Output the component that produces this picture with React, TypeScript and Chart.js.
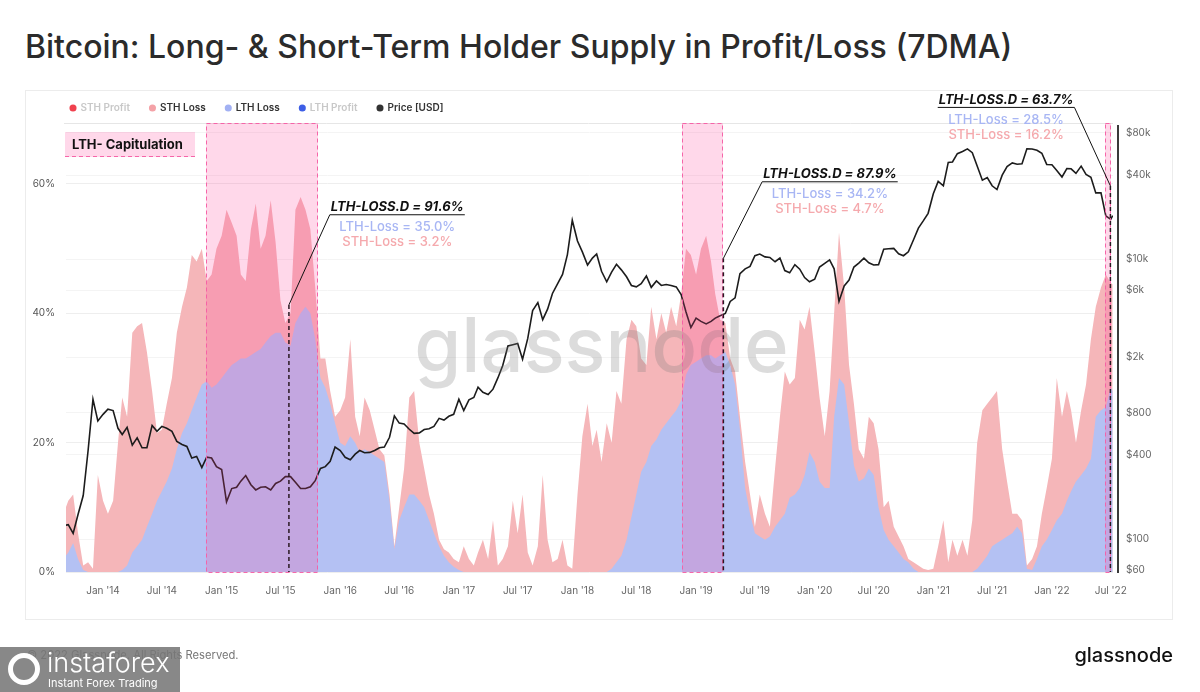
import React, { useEffect, useRef } from "react";
import { Chart, registerables } from "chart.js";

Chart.register(...registerables);

const FONT = "Inter, 'Noto Sans', 'DejaVu Sans', sans-serif";

// ---- data (semi-monthly samples, 7DMA) ----
const dates = [
  "2013-09-01","2013-09-16","2013-10-01","2013-10-16","2013-11-01","2013-11-16","2013-12-01","2013-12-16",
  "2014-01-01","2014-01-16","2014-02-01","2014-02-16","2014-03-01","2014-03-16","2014-04-01","2014-04-16","2014-05-01","2014-05-16","2014-06-01","2014-06-16","2014-07-01","2014-07-16","2014-08-01","2014-08-16","2014-09-01","2014-09-16","2014-10-01","2014-10-16","2014-11-01","2014-11-16","2014-12-01","2014-12-16",
  "2015-01-01","2015-01-16","2015-02-01","2015-02-16","2015-03-01","2015-03-16","2015-04-01","2015-04-16","2015-05-01","2015-05-16","2015-06-01","2015-06-16","2015-07-01","2015-07-16","2015-08-01","2015-08-16","2015-09-01","2015-09-16","2015-10-01","2015-10-16","2015-11-01","2015-11-16","2015-12-01","2015-12-16",
  "2016-01-01","2016-01-16","2016-02-01","2016-02-16","2016-03-01","2016-03-16","2016-04-01","2016-04-16","2016-05-01","2016-05-16","2016-06-01","2016-06-16","2016-07-01","2016-07-16","2016-08-01","2016-08-16","2016-09-01","2016-09-16","2016-10-01","2016-10-16","2016-11-01","2016-11-16","2016-12-01","2016-12-16",
  "2017-01-01","2017-01-16","2017-02-01","2017-02-16","2017-03-01","2017-03-16","2017-04-01","2017-04-16","2017-05-01","2017-05-16","2017-06-01","2017-06-16","2017-07-01","2017-07-16","2017-08-01","2017-08-16","2017-09-01","2017-09-16","2017-10-01","2017-10-16","2017-11-01","2017-11-16","2017-12-01","2017-12-16",
  "2018-01-01","2018-01-16","2018-02-01","2018-02-16","2018-03-01","2018-03-16","2018-04-01","2018-04-16","2018-05-01","2018-05-16","2018-06-01","2018-06-16","2018-07-01","2018-07-16","2018-08-01","2018-08-16","2018-09-01","2018-09-16","2018-10-01","2018-10-16","2018-11-01","2018-11-16","2018-12-01","2018-12-16",
  "2019-01-01","2019-01-16","2019-02-01","2019-02-16","2019-03-01","2019-03-16","2019-04-01","2019-04-16","2019-05-01","2019-05-16","2019-06-01","2019-06-16","2019-07-01","2019-07-16","2019-08-01","2019-08-16","2019-09-01","2019-09-16","2019-10-01","2019-10-16","2019-11-01","2019-11-16","2019-12-01","2019-12-16",
  "2020-01-01","2020-01-16","2020-02-01","2020-02-16","2020-03-01","2020-03-16","2020-04-01","2020-04-16","2020-05-01","2020-05-16","2020-06-01","2020-06-16","2020-07-01","2020-07-16","2020-08-01","2020-08-16","2020-09-01","2020-09-16","2020-10-01","2020-10-16","2020-11-01","2020-11-16","2020-12-01","2020-12-16",
  "2021-01-01","2021-01-16","2021-02-01","2021-02-16","2021-03-01","2021-03-16","2021-04-01","2021-04-16","2021-05-01","2021-05-16","2021-06-01","2021-06-16","2021-07-01","2021-07-16","2021-08-01","2021-08-16","2021-09-01","2021-09-16","2021-10-01","2021-10-16","2021-11-01","2021-11-16","2021-12-01","2021-12-16",
  "2022-01-01","2022-01-16","2022-02-01","2022-02-16","2022-03-01","2022-03-16","2022-04-01","2022-04-16","2022-05-01","2022-05-16","2022-06-01","2022-06-16","2022-07-01","2022-07-07",
];

// LTH supply in loss (% of supply)
const lthLoss = [
  2, 3, 4.5, 2, 0.3, 0, 0, 0,
  0, 0, 0, 0, 0.3, 1, 3, 4, 5, 7, 9, 11, 12.5, 14, 16, 19, 21.5, 23, 25, 27, 29, 29.5, 28.5, 29,
  30, 31, 32, 32.5, 33, 33, 33.5, 34, 34.5, 35.5, 36.5, 37, 37, 35.5, 35, 38.5, 40, 41, 40, 36, 30, 28.5, 26, 23,
  20, 19.5, 21, 20, 18.5, 19, 18.5, 18, 17.5, 17, 11, 3.5, 8, 10, 12, 12, 11, 10, 8, 6, 4, 2.5, 1.5, 0.8,
  0.3, 0, 0, 0, 0, 0, 0, 0, 0, 0, 0, 0, 0, 0, 0, 0, 0, 0, 0, 0, 0, 0, 0, 0,
  0, 0, 0, 0, 0, 0, 0, 0.5, 1.5, 2.5, 5, 8.5, 12, 15.5, 17, 19.5, 20.5, 22, 23, 24, 25, 26.5, 30.5, 32,
  32.5, 33, 33.5, 33.5, 33, 33.5, 34, 32, 29, 22, 13, 9, 6, 5.5, 5, 5.5, 7, 8, 9, 11.5, 12, 13, 15, 18.5,
  17, 14, 13, 13, 24, 30, 29, 23, 16.5, 14, 14.5, 16, 15, 10, 6.5, 5, 4, 3, 2, 1.5, 0.5, 0, 0, 0,
  0, 0, 0, 0, 0, 0, 0, 0, 0, 0.5, 1.5, 2.5, 4, 4.5, 5, 5.5, 6, 7, 6, 0.5, 0.3, 2, 4, 5,
  6.5, 8, 9, 11, 12.5, 14, 15, 16, 17.5, 24, 25, 25.5, 28.5, 28,
];

// STH supply in loss (% of supply)
const sthLoss = [
  7, 8, 7.5, 4, 0.7, 1.5, 0.5, 15,
  11, 9, 11, 20, 26.7, 23, 34, 34, 33.5, 27, 19, 10.5, 9.5, 12, 14, 18, 19.5, 21, 24, 21, 21, 15.5, 17.5, 21,
  22, 25, 22, 19.5, 13, 12, 19.5, 23, 15.5, 16.5, 21, 14, 5, 3, 5, 17.5, 18, 15, 13, 8, 3, 4.5, 2, 1,
  5, 7.5, 15, 4, 2.5, 8, 6.5, 4, 1.5, 1, 1, 0.5, 2, 6, 15, 16, 9, 6, 4, 3, 1, 1, 1.5, 1.2,
  1.2, 4, 2, 1, 3, 5, 2, 8, 1, 2, 4, 11, 6, 12, 3, 1, 4, 15, 5, 1.5, 2, 5, 1, 0.5,
  12, 21, 26, 19.5, 22, 17, 23, 19.5, 26.5, 23.5, 31, 30.5, 26, 17.5, 15, 21.5, 15.5, 18, 14, 17, 13, 16.5, 19.5, 17,
  13.5, 17, 18.5, 14.5, 10, 5.5, 4.5, 1, 2, 2, 4, 3, 1, 6.5, 4, 1.5, 9, 16, 22, 17.5, 18, 26, 22.5, 22.5,
  17, 13, 8, 15, 16, 22.5, 15, 9, 9.5, 5, 3, 8, 8, 9, 3.5, 6, 3, 2.5, 2, 0.5, 1, 1, 0.5, 0.3,
  0.5, 4, 8, 1.5, 5, 2.5, 5, 2.5, 8, 19.5, 23.5, 23.5, 23, 23.5, 14, 8.5, 3, 2, 2, 0.5, 1.7, 2, 5, 8,
  11, 22, 15, 17, 12.5, 6, 10, 13, 18.5, 17, 19, 20.5, 16.2, 16.5,
];

// BTC price (USD)
const price = [
  125, 127, 110, 150, 205, 430, 1000, 700,
  780, 850, 830, 620, 560, 630, 470, 530, 450, 450, 650, 590, 640, 620, 590, 500, 475, 460, 380, 390, 325, 385, 380, 330,
  315, 185, 230, 235, 260, 285, 245, 225, 235, 237, 225, 250, 260, 280, 280, 255, 230, 230, 237, 262, 320, 330, 360, 455,
  430, 385, 370, 405, 430, 415, 417, 430, 450, 455, 535, 760, 675, 665, 610, 570, 575, 607, 615, 640, 730, 710, 755, 780,
  1000, 830, 990, 1030, 1220, 1120, 1080, 1180, 1420, 1740, 2400, 2450, 2500, 1930, 2720, 4300, 4900, 3700, 4400, 5700, 6700, 7800, 10800, 19000,
  13500, 11300, 9100, 10200, 10900, 8200, 6900, 8100, 9200, 8400, 7500, 6500, 6350, 6700, 7600, 6300, 7000, 6500, 6600, 6500, 6350, 5600, 4200, 3250,
  3800, 3600, 3450, 3600, 3800, 3950, 4100, 5000, 5300, 7900, 8550, 8900, 10600, 10900, 10400, 10300, 9600, 10200, 8300, 8000, 9150, 8500, 7400, 6900,
  7200, 8800, 9350, 9900, 8550, 5000, 6450, 7100, 8800, 9400, 10200, 9450, 9100, 9150, 11800, 11900, 11950, 10950, 10600, 11300, 13800, 16700, 18800, 21300,
  29400, 36000, 33500, 49200, 49600, 56800, 58900, 61500, 57800, 46400, 36700, 38300, 33500, 31500, 39900, 46000, 48800, 47700, 48100, 61500, 61300, 60100, 57200, 47600,
  47300, 43100, 38700, 44500, 44300, 41100, 46300, 40400, 38500, 29800, 29800, 20400, 19300, 20500,
];

const xRange = ["2013-09-09", "2022-07-08"];
const xTickDates = [
  "2014-01-01","2014-07-01","2015-01-01","2015-07-01","2016-01-01","2016-07-01","2017-01-01","2017-07-01","2018-01-01",
  "2018-07-01","2019-01-01","2019-07-01","2020-01-01","2020-07-01","2021-01-01","2021-07-01","2022-01-01","2022-07-01",
];
const xTickLabels = [
  "Jan '14","Jul '14","Jan '15","Jul '15","Jan '16","Jul '16","Jan '17","Jul '17","Jan '18",
  "Jul '18","Jan '19","Jul '19","Jan '20","Jul '20","Jan '21","Jul '21","Jan '22","Jul '22",
];
const pctTicks = [0, 20, 40, 60];
const pctRange = [0, 69.43];
const priceTicks = [60, 100, 400, 800, 2000, 6000, 10000, 40000, 80000];
const priceRange = [58.3, 94100];

const legendNames = ["STH Profit", "STH Loss", "LTH Loss", "LTH Profit", "Price [USD]"];
const capitulationBands = [
  ["2014-11-13", "2015-10-24"],
  ["2018-11-18", "2019-03-26"],
  ["2022-06-12", "2022-07-03"],
];
const capitulationLabel = "LTH- Capitulation";
const markers = [
  { date: "2015-07-27", top: 41.3, labelDate: "2016-06-25", labelPct: 56.4, side: "left",
    title: "LTH-LOSS.D = 91.6%", lth: "LTH-Loss = 35.0%", sth: "STH-Loss = 3.2%" },
  { date: "2019-03-26", top: 48.5, labelDate: "2020-02-17", labelPct: 61.5, side: "left",
    title: "LTH-LOSS.D = 87.9%", lth: "LTH-Loss = 34.2%", sth: "STH-Loss = 4.7%" },
  { date: "2022-06-30", top: 59.7, labelDate: "2021-08-13", labelPct: 73.0, side: "right",
    title: "LTH-LOSS.D = 63.7%", lth: "LTH-Loss = 28.5%", sth: "STH-Loss = 16.2%" },
];

function toYear(s: string): number {
  const [y, m, d] = s.split("-").map(Number);
  const start = Date.UTC(y, 0, 1);
  const end = Date.UTC(y + 1, 0, 1);
  return y + (Date.UTC(y, m - 1, d) - start) / (end - start);
}

function fmtPrice(v: number): string {
  return v >= 1000 ? `$${v / 1000}k` : `$${v}`;
}

const BAND_FILL = "rgba(255,60,150,0.2)";
const BAND_EDGE = "rgba(246,95,165,0.95)";
const LEGEND_SHIFT = 50.5;

export default function App() {
  const ref = useRef<HTMLCanvasElement>(null);

  useEffect(() => {
    const canvas = ref.current;
    if (!canvas) return;
    const xs = dates.map(toYear);
    const total = lthLoss.map((v, i) => v + sthLoss[i]);

    const dotColors = ["#f0414e", "#f4a2a7", "#a2b1f3", "#3d5ee6", "#333333"];
    const textColors = ["#c8c8c8", "#333333", "#333333", "#c8c8c8", "#333333"];

    const overlay = {
      id: "overlay",
      afterLayout(chart: any) {
        if (chart.legend) chart.legend.left += LEGEND_SHIFT;
      },
      beforeDatasetsDraw(chart: any) {
        const { ctx, chartArea: ca } = chart;
        ctx.save();
        ctx.strokeStyle = "#e6e6e6";
        ctx.lineWidth = 1;
        ctx.beginPath();
        ctx.moveTo(ca.left - 2, ca.top + 0.5);
        ctx.lineTo(ca.right, ca.top + 0.5);
        ctx.stroke();
        ctx.restore();
      },
      afterDatasetsDraw(chart: any) {
        const { ctx, chartArea: ca, scales } = chart;
        const x = scales.x;
        const y = scales.y;
        ctx.save();
        // watermark
        ctx.font = `500 76px ${FONT}`;
        ctx.fillStyle = "rgba(120,120,120,0.26)";
        ctx.textAlign = "center";
        ctx.textBaseline = "alphabetic";
        ctx.fillText("glassnode", (ca.left + ca.right) / 2 + 12, (ca.top + ca.bottom) / 2 + 24);

        // capitulation bands
        for (const [a, b] of capitulationBands) {
          const x0 = Math.round(x.getPixelForValue(toYear(a)));
          const x1 = Math.round(x.getPixelForValue(toYear(b)));
          ctx.fillStyle = BAND_FILL;
          ctx.fillRect(x0, ca.top, x1 - x0, ca.bottom - ca.top);
          ctx.setLineDash([4, 3]);
          ctx.strokeStyle = BAND_EDGE;
          ctx.lineWidth = 1;
          ctx.strokeRect(x0 + 0.5, ca.top + 0.5, x1 - x0 - 1, ca.bottom - ca.top);
          ctx.setLineDash([]);
        }

        // key box
        const kx = ca.left - 1, ky = ca.top + 9, kw = 130, kh = 25;
        ctx.fillStyle = BAND_FILL;
        ctx.fillRect(kx, ky, kw, kh);
        ctx.setLineDash([4, 3]);
        ctx.strokeStyle = BAND_EDGE;
        ctx.beginPath();
        ctx.moveTo(kx, ky + kh - 0.5);
        ctx.lineTo(kx + kw, ky + kh - 0.5);
        ctx.stroke();
        ctx.setLineDash([]);
        ctx.fillStyle = "#111";
        ctx.font = `700 13px ${FONT}`;
        ctx.textAlign = "left";
        ctx.textBaseline = "middle";
        ctx.fillText(capitulationLabel, kx + 7, ky + kh / 2 + 0.5);

        // markers & labels
        for (const m of markers) {
          const mx = x.getPixelForValue(toYear(m.date));
          const my = y.getPixelForValue(m.top);
          ctx.setLineDash([4, 3]);
          ctx.strokeStyle = "#2a1822";
          ctx.lineWidth = 1.5;
          ctx.beginPath();
          ctx.moveTo(mx, my);
          ctx.lineTo(mx, ca.bottom);
          ctx.stroke();
          ctx.setLineDash([]);

          const lx = x.getPixelForValue(toYear(m.labelDate));
          const ly = y.getPixelForValue(m.labelPct);
          ctx.font = `italic 700 13px ${FONT}`;
          ctx.textAlign = "center";
          ctx.textBaseline = "middle";
          const w = ctx.measureText(m.title).width;
          ctx.fillStyle = "#111";
          ctx.fillText(m.title, lx, ly);
          const ux0 = lx - w / 2 - 1, ux1 = lx + w / 2 + 1, uy = ly + 7.5;
          ctx.strokeStyle = "#111";
          ctx.lineWidth = 1;
          ctx.beginPath();
          ctx.moveTo(ux0, uy);
          ctx.lineTo(ux1, uy);
          ctx.stroke();
          const ax = m.side === "left" ? ux0 : ux1;
          ctx.beginPath();
          ctx.moveTo(ax, uy);
          ctx.lineTo(mx, my);
          ctx.stroke();
          ctx.font = `500 13px ${FONT}`;
          ctx.fillStyle = "#a8b6f4";
          ctx.fillText(m.lth, lx, ly + 20);
          ctx.fillStyle = "#f5a9ad";
          ctx.fillText(m.sth, lx, ly + 35);
        }
        ctx.restore();
      },
      afterDraw(chart: any) {
        const { ctx, chartArea: ca } = chart;
        ctx.save();
        ctx.strokeStyle = "#3a3a3a";
        ctx.lineWidth = 2;
        ctx.beginPath();
        ctx.moveTo(ca.right + 5, ca.top + 2);
        ctx.lineTo(ca.right + 5, ca.bottom + 1);
        ctx.stroke();
        ctx.restore();
      },
    };

    const chart = new Chart(canvas, {
      type: "line",
      data: {
        datasets: [
          { label: legendNames[0], data: [], borderColor: dotColors[0], backgroundColor: dotColors[0], order: 3 },
          {
            label: legendNames[1],
            data: xs.map((xv, i) => ({ x: xv, y: total[i] })),
            borderWidth: 0, borderColor: "rgba(0,0,0,0)",
            backgroundColor: "#f5b6b9", fill: "origin", pointRadius: 0, order: 2,
          },
          {
            label: legendNames[2],
            data: xs.map((xv, i) => ({ x: xv, y: lthLoss[i] })),
            borderWidth: 0, borderColor: "rgba(0,0,0,0)",
            backgroundColor: "#b4c1f3", fill: "origin", pointRadius: 0, order: 1,
          },
          { label: legendNames[3], data: [], borderColor: dotColors[3], backgroundColor: dotColors[3], order: 3 },
          {
            label: legendNames[4],
            data: xs.map((xv, i) => ({ x: xv, y: price[i] })),
            yAxisID: "y1", borderColor: "#1c1c1c", borderWidth: 1.6,
            pointRadius: 0, fill: false, order: 0,
          },
        ] as any,
      },
      options: {
        responsive: false,
        animation: false,
        events: [],
        layout: { padding: { left: 0, right: 0, top: 83, bottom: 80 } },
        plugins: {
          tooltip: { enabled: false },
          legend: {
            display: true,
            position: "top",
            align: "start",
            onClick: () => {},
            labels: {
              usePointStyle: true,
              pointStyle: "circle",
              boxWidth: 5,
              boxHeight: 5,
              padding: 20,
              font: { size: 10, weight: 600 as any, family: FONT },
              generateLabels: (ch: any) =>
                ch.data.datasets.map((ds: any, i: number) => ({
                  text: ds.label,
                  fillStyle: dotColors[i],
                  strokeStyle: dotColors[i],
                  lineWidth: 0,
                  fontColor: textColors[i],
                  pointStyle: "circle",
                  hidden: false,
                  datasetIndex: i,
                })),
            },
          },
        },
        scales: {
          x: {
            type: "linear",
            min: toYear(xRange[0]),
            max: toYear(xRange[1]),
            afterBuildTicks: (s: any) => { s.ticks = xTickDates.map((d) => ({ value: toYear(d) })); },
            afterFit: (s: any) => { s.height = 40; },
            grid: { display: false, drawTicks: false },
            border: { display: false },
            ticks: {
              autoSkip: false, maxRotation: 0, padding: 13, color: "#666",
              font: { size: 10, family: FONT },
              callback: (_v: any, i: number) => xTickLabels[i],
            },
          },
          y: {
            type: "linear",
            position: "left",
            min: pctRange[0],
            max: pctRange[1],
            afterBuildTicks: (s: any) => { s.ticks = pctTicks.map((v) => ({ value: v })); },
            afterFit: (s: any) => { s.width = 66; },
            grid: { color: "#eeeeee", drawTicks: false },
            border: { display: false },
            ticks: { padding: 11, color: "#555", font: { size: 10, family: FONT }, callback: (v: any) => `${v}%` },
          },
          y1: {
            type: "logarithmic",
            position: "right",
            min: priceRange[0],
            max: priceRange[1],
            afterBuildTicks: (s: any) => { s.ticks = priceTicks.map((v) => ({ value: v })); },
            afterFit: (s: any) => { s.width = 87; },
            grid: { color: "#f4f4f4", drawTicks: false },
            border: { display: false },
            ticks: { padding: 13, color: "#666", font: { size: 10, family: FONT }, callback: (v: any) => fmtPrice(Number(v)) },
          },
        },
      } as any,
      plugins: [overlay],
    });
    return () => chart.destroy();
  }, []);

  return (
    <div style={{ position: "absolute", left: 0, top: 0, width: 1200, height: 692, background: "#fff", overflow: "hidden", fontFamily: FONT }}>
      <div style={{ position: "absolute", left: 25, top: 28, lineHeight: "38px", fontSize: 32, fontWeight: 500, color: "#2b2b2b", whiteSpace: "nowrap" }}>
        Bitcoin: Long- &amp; Short-Term Holder Supply in Profit/Loss (7DMA)
      </div>
      <div style={{ position: "absolute", left: 25, top: 90, width: 1148, height: 530, border: "1px solid #ececec", boxSizing: "border-box" }} />
      <canvas ref={ref} width={1200} height={692} style={{ position: "absolute", left: 0, top: 0 }} />
      <div style={{ position: "absolute", left: 27, top: 647, lineHeight: "16px", fontSize: 11.2, color: "#777", whiteSpace: "nowrap" }}>
        © 2022 Glassnode. All Rights Reserved.
      </div>
      <div style={{ position: "absolute", right: 27, top: 641, lineHeight: "28px", fontSize: 20, fontWeight: 500, color: "#111", whiteSpace: "nowrap" }}>
        glassnode
      </div>
      <div style={{ position: "absolute", left: 0, top: 647, width: 180, height: 45, background: "rgba(120,120,120,0.88)" }}>
        <div style={{ position: "absolute", left: 8, top: 6, width: 22, height: 22, borderRadius: "50%", border: "5px solid #fff" }} />
        <div style={{ position: "absolute", left: 47, top: 0, lineHeight: "32px", fontSize: 27, fontWeight: 300, color: "#fff", whiteSpace: "nowrap" }}>
          instaforex
        </div>
        <div style={{ position: "absolute", left: 48, top: 30, lineHeight: "13px", fontSize: 11, color: "#fff", whiteSpace: "nowrap" }}>
          Instant Forex Trading
        </div>
      </div>
    </div>
  );
}
